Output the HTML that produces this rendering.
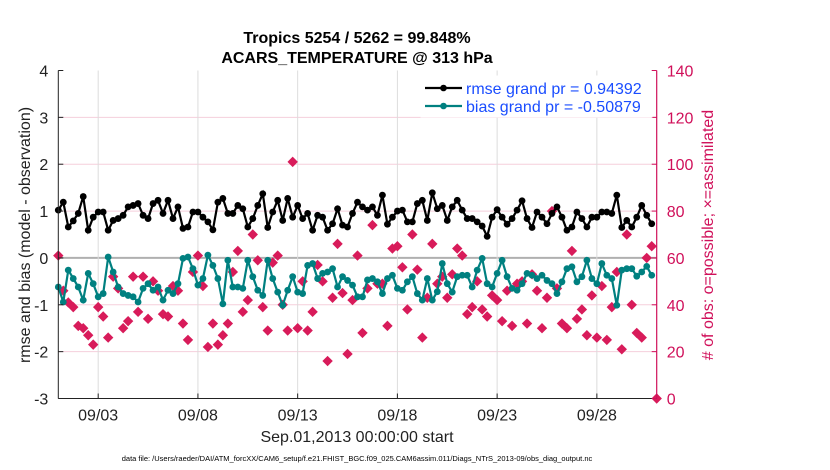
<!DOCTYPE html>
<html><head><meta charset="utf-8"><style>
body{margin:0;background:#fff;}
svg{display:block;font-family:"Liberation Sans",sans-serif;}
</style></head><body>
<svg id="chart" width="830" height="470"></svg>
<script>
const rmse=[1.02,1.19,0.66,0.79,0.95,1.31,0.59,0.87,0.98,0.98,0.59,0.80,0.84,0.91,1.09,1.12,1.16,0.91,0.84,1.16,1.23,0.95,1.23,0.84,1.09,0.63,0.66,0.98,0.98,0.87,0.77,0.60,
1.19,1.27,0.95,0.95,1.12,1.05,0.66,0.84,1.12,1.37,0.65,0.98,1.23,0.80,1.27,0.87,1.12,0.84,0.95,0.59,0.91,0.87,0.59,0.73,1.05,0.70,0.66,0.95,1.19,1.09,
1.02,1.09,0.91,1.34,0.72,0.87,1.00,1.02,0.77,0.77,1.16,1.23,0.80,1.39,1.05,1.12,0.80,1.09,1.23,1.02,0.84,0.84,0.77,0.68,0.46,0.87,1.03,0.87,0.72,0.84,
1.02,1.22,0.84,0.65,0.98,0.87,0.73,0.95,1.09,0.87,0.59,0.66,0.98,0.84,0.66,0.87,0.87,0.98,0.98,0.95,1.34,0.65,0.80,0.66,0.87,1.12,0.91,0.73];
const bias=[-0.62,-0.94,-0.26,-0.44,-0.62,-0.90,-0.33,-0.55,-0.83,-0.76,0.02,-0.30,-0.62,-0.76,-0.80,-0.83,-0.94,-0.65,-0.55,-0.69,-0.62,-0.90,-0.69,-0.76,-0.55,-0.01,0.02,-0.23,-0.58,-0.44,0.06,-0.16,
-0.44,-0.98,-0.05,-0.62,-0.62,-0.65,-0.05,-0.40,-0.69,-0.80,-0.05,-0.44,-0.73,-1.01,-0.69,-0.40,-0.73,-0.76,-0.16,-0.12,-0.44,-0.33,-0.30,-0.23,-0.62,-0.40,-0.48,-0.58,-0.83,-0.83,
-0.47,-0.44,-0.51,-0.76,-0.44,-0.37,-0.65,-0.69,-0.51,-0.40,-0.76,-0.90,-0.44,-0.90,-0.72,-0.12,-0.55,-0.73,-0.40,-0.37,-0.37,-0.62,-0.26,-0.01,-0.55,-0.62,-0.33,-0.05,-0.40,-0.65,
-0.69,-0.55,-0.33,-0.37,-0.44,-0.37,-0.48,-0.55,-0.76,-0.51,-0.23,-0.19,-0.51,-0.40,-0.05,-0.44,-0.55,-0.12,-0.37,-0.44,-1.01,-0.26,-0.23,-0.23,-0.39,-0.30,-0.18,-0.37];
const nobs=[61,46,41,39,31,30,27,23,39,35,26,52,47,30,33,52,37,52,34,50,46,36,35,48,46,32,25,54,61,48,22,32,
23,27,32,54,63,37,42,70,59,39,29,58,61,40,29,101,30,50,29,37,57,50,16,43,66,45,19,42,61,28,
47,74,49,49,31,64,65,56,38,70,55,26,43,66,49,52,43,53,64,61,36,39,50,38,35,44,42,33,46,31,
49,50,32,53,46,30,43,80,47,32,30,63,34,38,27,44,26,48,25,39,54,21,70,40,28,26,60,65,0];
const xTickLabels=["09/03","09/08","09/13","09/18","09/23","09/28"];
const xTickDays=[2,7,12,17,22,27];
const yTicks=[-3,-2,-1,0,1,2,3,4];
const y2Ticks=[0,20,40,60,80,100,120,140];

const L=58.3,R=656.7,T=70.5,B=398.5;
const xs=d=>L+(R-L)*d/30;
const ys=v=>B-(B-T)*(v+3)/7;
const y2s=v=>B-(B-T)*v/140;
const svg=document.getElementById('chart');
const NS='http://www.w3.org/2000/svg';
function mk(tag,attrs,parent){const e=document.createElementNS(NS,tag);for(const k in attrs)e.setAttribute(k,attrs[k]);(parent||svg).appendChild(e);return e;}
function txt(s,attrs,parent){const e=mk('text',attrs,parent);e.textContent=s;return e;}

yTicks.forEach(v=>{if(v>-3&&v<4){const g=mk('line',{x1:L,x2:R,y1:ys(v),y2:ys(v),stroke:v===0?'#b0b0b0':'#f5cfdc','stroke-width':v===0?2:1});

}});
xTickDays.forEach(d=>{const g=mk('line',{x1:xs(d),x2:xs(d),y1:T,y2:B,stroke:'#dcdcdc','stroke-width':1});

});

const gObs=mk('g',{});


nobs.forEach((n,i)=>{const x=xs(i*0.25),y=y2s(n),h=5.2;
const p=mk('path',{d:`M${x} ${y-h}L${x+h} ${y}L${x} ${y+h}L${x-h} ${y}Z`,fill:'#d81b5a'},gObs);

});

function series(arr,color,name){
  const g=mk('g',{});
  
  
  const pts=arr.map((v,i)=>xs(i*0.25).toFixed(1)+','+ys(v).toFixed(1)).join(' ');
  mk('polyline',{points:pts,fill:'none',stroke:color,'stroke-width':2.2},g);
  arr.forEach((v,i)=>{const c=mk('circle',{cx:xs(i*0.25),cy:ys(v),r:3.4,fill:color},g);
  
  });
}
series(bias,'#008080','bias-series');
series(rmse,'#000000','rmse-series');

const ax=mk('g',{});


mk('line',{x1:L,x2:L,y1:T,y2:B,stroke:'#222','stroke-width':1},ax);
mk('line',{x1:L,x2:R,y1:B,y2:B,stroke:'#222','stroke-width':1},ax);
mk('line',{x1:R,x2:R,y1:T,y2:B,stroke:'#d0105a','stroke-width':1.2},ax);
yTicks.forEach(v=>{mk('line',{x1:L,x2:L+5,y1:ys(v),y2:ys(v),stroke:'#222'},ax);
const t=txt(String(v),{x:L-10,y:ys(v)+6,'text-anchor':'end','font-size':16,fill:'#222'},ax);

});
y2Ticks.forEach(v=>{mk('line',{x1:R-5,x2:R,y1:y2s(v),y2:y2s(v),stroke:'#d0105a'},ax);
const t=txt(String(v),{x:R+10,y:y2s(v)+6,'font-size':16,fill:'#d0105a'},ax);

});
xTickDays.forEach((d,i)=>{mk('line',{x1:xs(d),x2:xs(d),y1:B,y2:B-5,stroke:'#222'},ax);
const t=txt(xTickLabels[i],{x:xs(d),y:B+22,'text-anchor':'middle','font-size':16,fill:'#222'},ax);

});
</script>
<script>
const s2=document.getElementById('chart');
function T2(s,a,name){const e=document.createElementNS('http://www.w3.org/2000/svg','text');for(const k in a)e.setAttribute(k,a[k]);e.textContent=s;


s2.appendChild(e);return e;}
T2('Tropics 5254 / 5262 = 99.848%',{x:357,y:43,'text-anchor':'middle','font-size':16,'font-weight':'bold',fill:'#000'},'title-line-1');
T2('ACARS_TEMPERATURE @ 313 hPa',{x:357,y:63,'text-anchor':'middle','font-size':16,'font-weight':'bold',fill:'#000'},'title-line-2');
T2('Sep.01,2013 00:00:00 start',{x:357,y:442,'text-anchor':'middle','font-size':16,fill:'#222'},'x-axis-title');
T2('rmse and bias (model - observation)',{x:0,y:0,transform:'translate(30,235) rotate(-90)','text-anchor':'middle','font-size':16,fill:'#222'},'y-axis-title');
T2('# of obs: o=possible; \u00d7=assimilated',{x:0,y:0,transform:'translate(713,235) rotate(-90)','text-anchor':'middle','font-size':16,fill:'#d0105a'},'y2-axis-title');
T2('data file: /Users/raeder/DAI/ATM_forcXX/CAM6_setup/f.e21.FHIST_BGC.f09_025.CAM6assim.011/Diags_NTrS_2013-09/obs_diag_output.nc',{x:357,y:461,'text-anchor':'middle','font-size':7.5,fill:'#000'},'data-file-note');
const NS2='http://www.w3.org/2000/svg';
const lg=document.createElementNS(NS2,'g');


s2.appendChild(lg);
lg.innerHTML='<rect x="421" y="76" width="231" height="41" fill="#fff" stroke="#fff"/>'+
'<line x1="425" x2="462" y1="88" y2="88" stroke="#000" stroke-width="2.2"/><circle cx="443.5" cy="88" r="3.3" fill="#000"/>'+
'<line x1="425" x2="462" y1="106" y2="106" stroke="#008080" stroke-width="2.2"/><circle cx="443.5" cy="106" r="3.3" fill="#008080"/>'+
'<text x="466" y="94" font-size="16" fill="#1a4dff">rmse grand pr = 0.94392</text>'+
'<text x="466" y="112" font-size="16" fill="#1a4dff">bias grand pr = -0.50879</text>';
</script>
</body></html>
